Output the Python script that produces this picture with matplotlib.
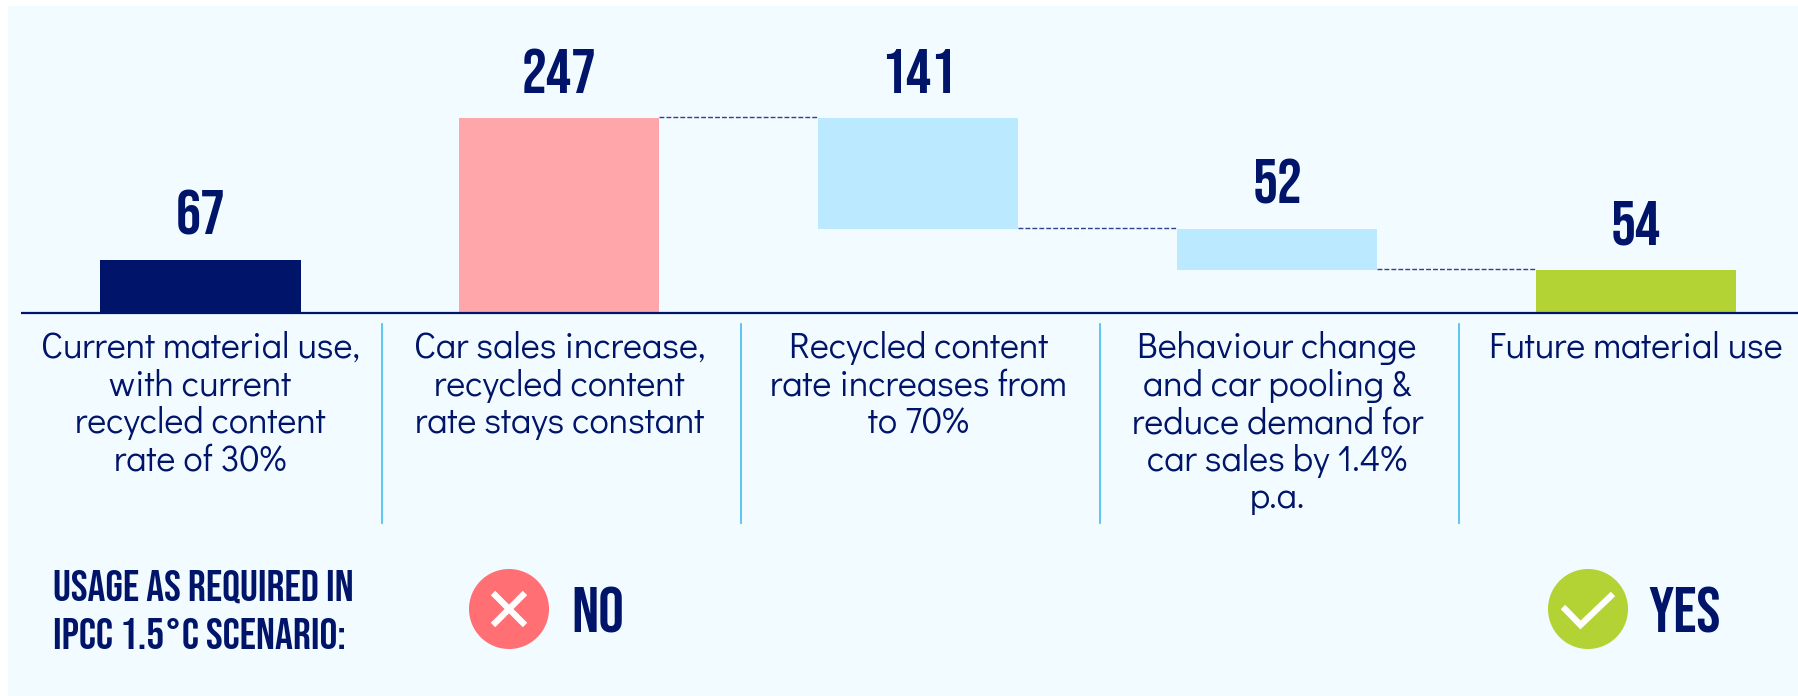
import matplotlib
matplotlib.use('Agg')
import matplotlib.pyplot as plt
from matplotlib.patches import Rectangle, Circle

W, H = 1798, 696

values = [67, 247, 141, 52, 54]
kinds = ['start', 'up', 'down', 'down', 'end']
labels = [
    'Current material use,\nwith current\nrecycled content\nrate of 30%',
    'Car sales increase,\nrecycled content\nrate stays constant',
    'Recycled content\nrate increases from\nto 70%',
    'Behaviour change\nand car pooling &\nreduce demand for\ncar sales by 1.4%\np.a.',
    'Future material use',
]
side_title = 'USAGE AS REQUIRED IN\nIPCC 1.5°C SCENARIO:'

NAVY = '#001469'
colors = {'start': NAVY, 'up': '#FFA6AB', 'down': '#BBE9FF', 'end': '#B3D334'}
BIG = ['Bebas Neue', 'Liberation Sans', 'DejaVu Sans']
BODY = ['Didact Gothic', 'Lato', 'DejaVu Sans']

fig = plt.figure(figsize=(W / 100, H / 100), dpi=100, facecolor='white')

# pixel overlay for panel, separators and the yes/no row
bg = fig.add_axes([0, 0, 1, 1], zorder=0)
bg.set_xlim(0, W)
bg.set_ylim(H, 0)
bg.axis('off')
bg.add_patch(Rectangle((8, 6), W, H, color='#F2FBFF', lw=0))

# data axes, fills the figure so bars land where they do in the picture
px_per_unit = 0.788
x0, dx, y0 = 200.5, 358.9, 312.5
ax = fig.add_axes([0, 0, 1, 1], zorder=1)
ax.patch.set_alpha(0)
ax.set_xlim((0 - x0) / dx, (W - x0) / dx)
ax.set_ylim(-(H - y0) / px_per_unit, y0 / px_per_unit)
ax.axis('off')

bar_w = 200 / dx
level = 0
tops = []
bottoms = []
for v, k in zip(values, kinds):
    if k in ('start', 'up', 'end'):
        b = 0
    else:
        b = level - v
    bottoms.append(b)
    tops.append(b + v)
    level = b if k == 'down' else b + v

for i, v in enumerate(values):
    ax.bar(i, v, width=bar_w, bottom=bottoms[i], color=colors[kinds[i]], linewidth=0)
    ax.text(i, tops[i] + 32, str(v), ha='center', va='baseline', fontsize=45,
            family=BIG, color=NAVY)

# dashed connectors between the floating bars
conn_y = [None, tops[1], bottoms[2], bottoms[3]]
for i in range(1, 4):
    ax.plot([i + bar_w / 2, i + 1 - bar_w / 2], [conn_y[i] + 1.5, conn_y[i] + 1.5], color=NAVY,
            lw=1, ls=(0, (3.5, 1.5)), alpha=.8)

ax.plot([(21 - x0) / dx, (W - x0) / dx], [0, 0], color=NAVY, lw=1.6, solid_capstyle='butt')

for i, lab in enumerate(labels):
    bg.text(x0 + dx * i, 331, lab, ha='center', va='top', fontsize=26, family=BODY,
            color=NAVY, linespacing=1.13, zorder=3)

for x in [382, 741, 1100, 1459]:
    bg.plot([x, x], [324, 523], color='#4FC3F0', lw=1.3)

bg.text(53, 609, side_title, ha='left', va='center', fontsize=32, family=BIG,
        color=NAVY, linespacing=1.475)

bg.add_patch(Circle((509, 609), 40, color='#FF6F73', lw=0))
bg.plot([493, 525], [593, 625], color='white', lw=4.5, solid_capstyle='butt')
bg.plot([493, 525], [625, 593], color='white', lw=4.5, solid_capstyle='butt')
bg.text(571, 610, 'NO', ha='left', va='center', fontsize=46, family=BIG, color=NAVY)

bg.add_patch(Circle((1588, 609), 40, color='#B3D334', lw=0))
bg.plot([1563, 1580.5, 1613], [607, 625, 594], color='white', lw=4.5, solid_joinstyle='miter',
        solid_capstyle='butt')
bg.text(1648, 610, 'YES', ha='left', va='center', fontsize=46, family=BIG, color=NAVY)

fig.savefig('out.png', dpi=100)
